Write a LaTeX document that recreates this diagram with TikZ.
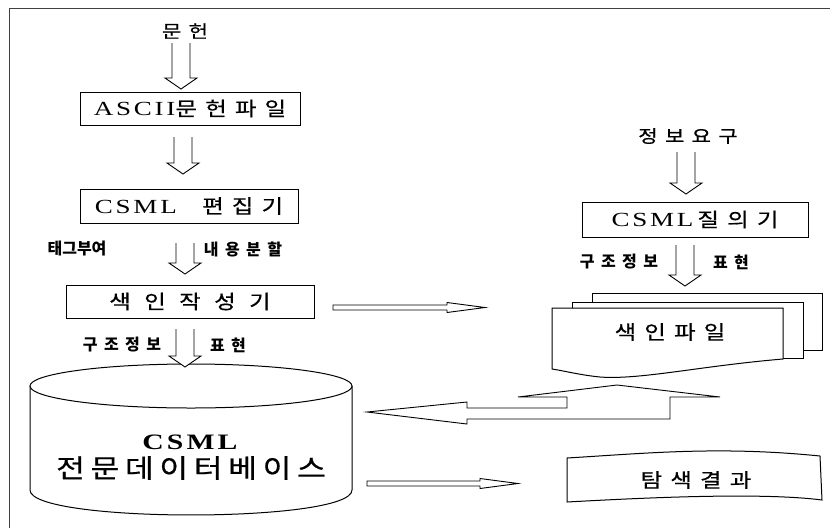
\documentclass[tikz,border=0pt]{standalone}
\usepackage{fontspec}
\usetikzlibrary{calc}
\newfontfamily\krfont[FakeStretch=1.2,LetterSpace=42,FakeBold=0.6]{Noto Sans CJK KR}
\newfontfamily\krbig[FakeStretch=1.2,LetterSpace=22,FakeBold=0.6]{Noto Sans CJK KR}
\newfontfamily\labfont{Noto Sans CJK KR}
\newfontfamily\labwide[LetterSpace=40]{Noto Sans CJK KR}
\newfontfamily\latfont[FakeStretch=1.35,LetterSpace=14]{Liberation Serif}
\newcommand\hdown[2]{\draw[harrow] let \p1=(#1), \p2=(#2) in
  (\x2-9pt,\y1) -- (\x2-9pt,\y2+11pt) -- (\x2-16pt,\y2+11pt) -- (\x2,\y2)
  -- (\x2+16pt,\y2+11pt) -- (\x2+9pt,\y2+11pt) -- (\x2+9pt,\y1);}
\newcommand\hright[2]{\draw[harrow] let \p1=(#1), \p2=(#2) in
  (\x1,\y1+2.5pt) -- (\x2-38pt,\y1+2.5pt) -- (\x2-38pt,\y1+5pt) -- (\x2,\y1)
  -- (\x2-38pt,\y1-5pt) -- (\x2-38pt,\y1-2.5pt) -- (\x1,\y1-2.5pt) -- cycle;}
\begin{document}
\begin{tikzpicture}[x=1pt,y=-1pt,
  box/.style={draw, line width=1pt, inner sep=0pt, font=\krfont\fontsize{19.5}{19.5}\selectfont},
  harrow/.style={draw, line width=0.9pt, fill=white},
  sheet/.style={draw, line width=1pt, fill=white},
  lab/.style={inner sep=0pt, font=\labwide\fontsize{16}{16}\selectfont\bfseries},
  labn/.style={inner sep=0pt, font=\labfont\fontsize{16}{16}\selectfont\bfseries},
  ttl/.style={inner sep=0pt, font=\krfont\fontsize{17.5}{17.5}\selectfont},
  txt/.style={inner sep=0pt, font=\krfont\fontsize{19.5}{19.5}\selectfont},
  frame/.style={draw, line width=0.8pt, black!75}]
\useasboundingbox (0,0) rectangle (830,528);
% page frame
\draw[frame] (9,528) -- (9,8) -- (830,8);

% left column
\node[ttl] (doc) at (185,31) {문헌};
\node[box, minimum width=220pt, minimum height=33pt] (ascii) at (190,108.5) {{\latfont\fontsize{20}{20}\selectfont ASCII}문헌파일};
\node[box, minimum width=218pt, minimum height=34pt] (editor) at (189,206) {{\latfont\fontsize{20}{20}\selectfont CSML}\ \hspace{12pt}편집기};
\node[labn] (tag) at (77,249) {태그부여};
\node[lab] (split) at (243,249) {내용분할};
\node[box, minimum width=248pt, minimum height=33pt] (indexer) at (190,301.5) {색 인 작 성 기};
\node[lab] (st1) at (122,345) {구조정보};
\node[lab] (ex1) at (228,345) {표현};

% cylinder
\draw[line width=1pt, fill=white] (30,386) -- (30,490) .. controls (30,523.3) and (352,523.3) .. (352,490) -- (352,386);
\draw[line width=1pt, fill=white] (191,386) ellipse [x radius=161pt, y radius=22pt];
\node[inner sep=0pt, font=\latfont\bfseries\fontsize{22}{22}\selectfont] (dbname) at (190,442) {CSML};
\node[inner sep=0pt, font=\krbig\fontsize{26}{26}\selectfont] (db) at (191,468) {전문데이터베이스};

% right column
\node[ttl] (req) at (688,136) {정보요구};
\node[box, minimum width=226pt, minimum height=35pt] (query) at (695,219.5) {{\latfont\fontsize{20}{20}\selectfont CSML}\hspace{4pt}질의기};
\node[lab] (st2) at (619,262) {구조정보};
\node[lab] (ex2) at (731,262) {표현};

% index file stack
\draw[sheet] (592,293) rectangle (822,350);
\draw[sheet] (572,302) rectangle (803,358);
\draw[sheet] (552,308) -- (783,308) -- (783,359) .. controls (700,366) and (640,380) .. (600,377) .. controls (580,375) and (565,371) .. (552,369) -- cycle;
\node[txt] (idx) at (670,332) {색인파일};

% search result
\draw[sheet] (567,458) .. controls (650,453) and (720,446) .. (820,456) -- (822,500) .. controls (760,492) and (640,498) .. (567,502) -- cycle;
\node[txt] (result) at (696,480) {탐색결과};

% down arrows
\coordinate (s1) at (181,43);  \coordinate (e1) at (181,89);
\coordinate (s2) at (183,137); \coordinate (e2) at (183,174);
\coordinate (s3) at (185,243); \coordinate (e3) at (185,274);
\coordinate (s4) at (185,329); \coordinate (e4) at (185,367);
\coordinate (s5) at (686,152); \coordinate (e5) at (686,194);
\coordinate (s6) at (685,245); \coordinate (e6) at (685,286);
\hdown{s1}{e1}
\hdown{s2}{e2}
\hdown{s3}{e3}
\hdown{s4}{e4}
\hdown{s5}{e5}
\hdown{s6}{e6}

% thin right arrows
\coordinate (ra1) at (333,307.5); \coordinate (rb1) at (485,307.5);
\coordinate (ra2) at (367,483.5); \coordinate (rb2) at (518,483.5);
\hright{ra1}{rb1}
\hright{ra2}{rb2}

% big bent arrow (left and up)
\coordinate (bt) at (367,412);
\draw[harrow] (bt) -- (467,402) -- (467,408) -- (567,408) -- (567,397) -- (518,397)
  -- (617,385) -- (720,397) -- (670,397) -- (670,419) -- (467,419) -- (467,424) -- cycle;
\end{tikzpicture}
\end{document}
